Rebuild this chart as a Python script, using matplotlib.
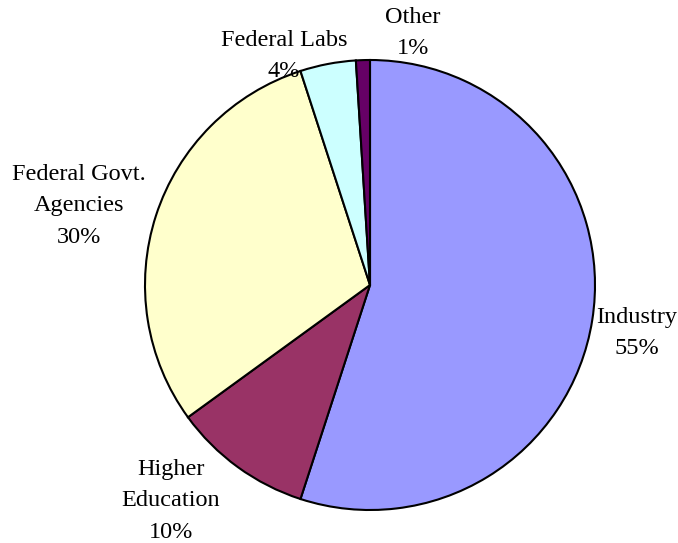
import matplotlib
matplotlib.use("Agg")
import matplotlib.pyplot as plt

categories = ["Industry", "Higher\nEducation", "Federal Govt.\nAgencies", "Federal Labs", "Other"]
values = [55, 10, 30, 4, 1]
pct_labels = ["55%", "10%", "30%", "4%", "1%"]
colors = ["#9999FF", "#993366", "#FFFFCC", "#CCFFFF", "#660066"]

plt.rcParams['font.family'] = ['Liberation Serif', 'DejaVu Serif']

fig = plt.figure(figsize=(6.78, 5.43), dpi=100)
ax = fig.add_axes([0, 0, 1, 1])

cx, cy, r = 370, 543 - 285, 225
ax.pie(values, colors=colors, startangle=90, counterclock=False,
       center=(cx, cy), radius=r, frame=True,
       wedgeprops=dict(edgecolor='black', linewidth=1.5))
ax.set_xlim(0, 678)
ax.set_ylim(0, 543)
ax.set_aspect('equal')
ax.axis('off')

# label positions (pixel coordinates, y from top)
label_pos = [(637, 333), (171, 501), (79, 206), (284, 56), (413, 33)]
for cat, pct, (x, y) in zip(categories, pct_labels, label_pos):
    ax.text(x, 543 - y, cat + "\n" + pct, ha='center', va='center',
            fontsize=17.5, linespacing=1.68)

fig.savefig("out.png", dpi=100)
